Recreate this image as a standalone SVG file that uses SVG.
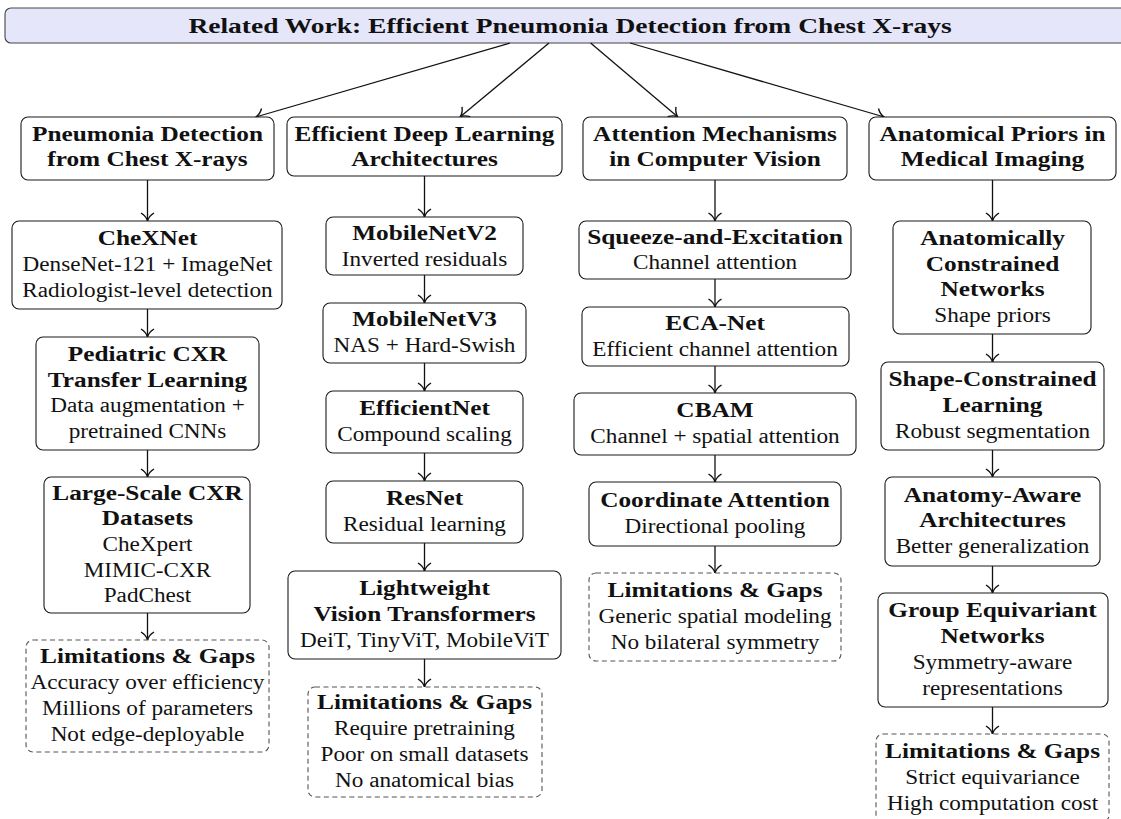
<svg xmlns="http://www.w3.org/2000/svg" width="1121" height="819" viewBox="0 0 1121 819">
<style>
text{font-family:"Liberation Serif","Times New Roman",serif;font-size:20px;text-anchor:middle;fill:#111;transform-box:view-box;transform-origin:0 0;transform:scaleX(1.16)}
text.b{font-weight:bold;transform:scaleX(1.265)}
text.tt{font-weight:bold;font-size:22px;transform:scaleX(1.25)}
.n{fill:#fff;stroke:#1a1a1a;stroke-width:1.1}
.d{fill:#fff;stroke:#555;stroke-width:1.1;stroke-dasharray:5 3.5}
.t{fill:#e6e6fa;stroke:#444;stroke-width:1.1}
.c line{stroke:#111;stroke-width:1.3;marker-end:url(#ah)}
</style>
<defs>
<marker id="ah" markerUnits="userSpaceOnUse" viewBox="-10 -8 12 16" markerWidth="12" markerHeight="16" refX="0" refY="0" orient="auto" overflow="visible">
<path d="M-8,-6.5 C-5.5,-2.5 -2.5,-0.6 0,0 C-2.5,0.6 -5.5,2.5 -8,6.5" fill="none" stroke="#111" stroke-width="1.4"/>
</marker>
</defs>
<rect width="1121" height="819" fill="#fff"/>

<g id="title">
<rect class="t" x="5" y="8" width="1145" height="35" rx="6"/>
<g transform="translate(570,0)"><text class="tt" x="0" y="33">Related Work: Efficient Pneumonia Detection from Chest X-rays</text></g>
</g>

<g class="c" id="connectors">
<line x1="509.9" y1="43" x2="255.7" y2="117"/>
<line x1="549" y1="43" x2="460" y2="117"/>
<line x1="590.6" y1="43" x2="677.9" y2="117"/>
<line x1="630.1" y1="43" x2="884.3" y2="117"/>
<line x1="147.5" y1="180" x2="147.5" y2="221"/>
<line x1="147.5" y1="309" x2="147.5" y2="337"/>
<line x1="147.5" y1="450" x2="147.5" y2="477"/>
<line x1="147.5" y1="613" x2="147.5" y2="640"/>
<line x1="424.5" y1="176" x2="424.5" y2="217"/>
<line x1="424.5" y1="275" x2="424.5" y2="303"/>
<line x1="424.5" y1="363" x2="424.5" y2="391"/>
<line x1="424.5" y1="453" x2="424.5" y2="481"/>
<line x1="424.5" y1="543" x2="424.5" y2="571"/>
<line x1="424.5" y1="659" x2="424.5" y2="687"/>
<line x1="715" y1="180" x2="715" y2="221"/>
<line x1="715" y1="279" x2="715" y2="307"/>
<line x1="715" y1="366" x2="715" y2="393"/>
<line x1="715" y1="455" x2="715" y2="482"/>
<line x1="715" y1="546" x2="715" y2="573"/>
<line x1="992.5" y1="180" x2="992.5" y2="221"/>
<line x1="992.5" y1="334" x2="992.5" y2="362"/>
<line x1="992.5" y1="450" x2="992.5" y2="477"/>
<line x1="992.5" y1="566" x2="992.5" y2="593"/>
<line x1="992.5" y1="707" x2="992.5" y2="734"/>
</g>

<g id="h1"><rect class="n" x="21" y="117" width="253" height="63" rx="7"/>
<g transform="translate(147.5,-0.5)"><text class="b" x="0" y="141.5">Pneumonia Detection</text><text class="b" x="0" y="166.5">from Chest X-rays</text></g></g>
<g id="chexnet"><rect class="n" x="12" y="221" width="270" height="88" rx="7"/>
<g transform="translate(147.5,-0.5)"><text class="b" x="0" y="245.8">CheXNet</text><text x="0" y="271.5">DenseNet-121 + ImageNet</text><text x="0" y="297.2">Radiologist-level detection</text></g></g>
<g id="pediatric"><rect class="n" x="36" y="337" width="223" height="113" rx="7"/>
<g transform="translate(147.5,-0.5)"><text class="b" x="0" y="361.5">Pediatric CXR</text><text class="b" x="0" y="387.2">Transfer Learning</text><text x="0" y="412.9">Data augmentation +</text><text x="0" y="438.6">pretrained CNNs</text></g></g>
<g id="datasets"><rect class="n" x="44" y="477" width="206" height="136" rx="7"/>
<g transform="translate(147.5,-0.5)"><text class="b" x="0" y="500.1">Large-Scale CXR</text><text class="b" x="0" y="525.8">Datasets</text><text x="0" y="551.5">CheXpert</text><text x="0" y="577.2">MIMIC-CXR</text><text x="0" y="602.9">PadChest</text></g></g>
<g id="lim1"><rect class="d" x="26" y="640" width="243" height="112" rx="7"/>
<g transform="translate(147.5,-0.5)"><text class="b" x="0" y="664">Limitations &amp; Gaps</text><text x="0" y="689.7">Accuracy over efficiency</text><text x="0" y="715.4">Millions of parameters</text><text x="0" y="741.1">Not edge-deployable</text></g></g>

<g id="h2"><rect class="n" x="287" y="117" width="275" height="59" rx="7"/>
<g transform="translate(424.5,-0.5)"><text class="b" x="0" y="141.5">Efficient Deep Learning</text><text class="b" x="0" y="166.5">Architectures</text></g></g>
<g id="mnv2"><rect class="n" x="326" y="217" width="197" height="58" rx="7"/>
<g transform="translate(424.5,-0.5)"><text class="b" x="0" y="240.7">MobileNetV2</text><text x="0" y="266.4">Inverted residuals</text></g></g>
<g id="mnv3"><rect class="n" x="323" y="303" width="203" height="60" rx="7"/>
<g transform="translate(424.5,-0.5)"><text class="b" x="0" y="326.7">MobileNetV3</text><text x="0" y="352.4">NAS + Hard-Swish</text></g></g>
<g id="effnet"><rect class="n" x="326" y="391" width="197" height="62" rx="7"/>
<g transform="translate(424.5,-0.5)"><text class="b" x="0" y="415.7">EfficientNet</text><text x="0" y="441.4">Compound scaling</text></g></g>
<g id="resnet"><rect class="n" x="326" y="481" width="197" height="62" rx="7"/>
<g transform="translate(424.5,-0.5)"><text class="b" x="0" y="505.7">ResNet</text><text x="0" y="531.4">Residual learning</text></g></g>
<g id="vit"><rect class="n" x="288" y="571" width="273" height="88" rx="7"/>
<g transform="translate(424.5,-0.5)"><text class="b" x="0" y="595.8">Lightweight</text><text class="b" x="0" y="621.5">Vision Transformers</text><text x="0" y="647.2">DeiT, TinyViT, MobileViT</text></g></g>
<g id="lim2"><rect class="d" x="308" y="687" width="234" height="110" rx="7"/>
<g transform="translate(424.5,-0.5)"><text class="b" x="0" y="710">Limitations &amp; Gaps</text><text x="0" y="735.7">Require pretraining</text><text x="0" y="761.4">Poor on small datasets</text><text x="0" y="787.1">No anatomical bias</text></g></g>

<g id="h3"><rect class="n" x="583" y="117" width="264" height="63" rx="7"/>
<g transform="translate(715,-0.5)"><text class="b" x="0" y="141.5">Attention Mechanisms</text><text class="b" x="0" y="166.5">in Computer Vision</text></g></g>
<g id="se"><rect class="n" x="579" y="221" width="272" height="58" rx="7"/>
<g transform="translate(715,-0.5)"><text class="b" x="0" y="244.2">Squeeze-and-Excitation</text><text x="0" y="269.9">Channel attention</text></g></g>
<g id="eca"><rect class="n" x="582" y="307" width="267" height="59" rx="7"/>
<g transform="translate(715,-0.5)"><text class="b" x="0" y="330.7">ECA-Net</text><text x="0" y="356.4">Efficient channel attention</text></g></g>
<g id="cbam"><rect class="n" x="574" y="393" width="282" height="62" rx="7"/>
<g transform="translate(715,-0.5)"><text class="b" x="0" y="417.7">CBAM</text><text x="0" y="443.4">Channel + spatial attention</text></g></g>
<g id="coord"><rect class="n" x="589" y="482" width="252" height="64" rx="7"/>
<g transform="translate(715,-0.5)"><text class="b" x="0" y="507.7">Coordinate Attention</text><text x="0" y="533.4">Directional pooling</text></g></g>
<g id="lim3"><rect class="d" x="589" y="573" width="252" height="88" rx="7"/>
<g transform="translate(715,-0.5)"><text class="b" x="0" y="597.8">Limitations &amp; Gaps</text><text x="0" y="623.5">Generic spatial modeling</text><text x="0" y="649.2">No bilateral symmetry</text></g></g>

<g id="h4"><rect class="n" x="869" y="117" width="247" height="63" rx="7"/>
<g transform="translate(992.5,-0.5)"><text class="b" x="0" y="141.5">Anatomical Priors in</text><text class="b" x="0" y="166.5">Medical Imaging</text></g></g>
<g id="acn"><rect class="n" x="893" y="221" width="198" height="113" rx="7"/>
<g transform="translate(992.5,-0.5)"><text class="b" x="0" y="245.5">Anatomically</text><text class="b" x="0" y="271.2">Constrained</text><text class="b" x="0" y="296.9">Networks</text><text x="0" y="322.6">Shape priors</text></g></g>
<g id="scl"><rect class="n" x="881" y="362" width="223" height="88" rx="7"/>
<g transform="translate(992.5,-0.5)"><text class="b" x="0" y="386.8">Shape-Constrained</text><text class="b" x="0" y="412.5">Learning</text><text x="0" y="438.2">Robust segmentation</text></g></g>
<g id="aaa"><rect class="n" x="885" y="477" width="215" height="89" rx="7"/>
<g transform="translate(992.5,-0.5)"><text class="b" x="0" y="502.3">Anatomy-Aware</text><text class="b" x="0" y="528">Architectures</text><text x="0" y="553.7">Better generalization</text></g></g>
<g id="gen"><rect class="n" x="878" y="593" width="230" height="114" rx="7"/>
<g transform="translate(992.5,-0.5)"><text class="b" x="0" y="618">Group Equivariant</text><text class="b" x="0" y="643.7">Networks</text><text x="0" y="669.4">Symmetry-aware</text><text x="0" y="695.1">representations</text></g></g>
<g id="lim4"><rect class="d" x="876" y="734" width="233" height="88" rx="7"/>
<g transform="translate(992.5,-0.5)"><text class="b" x="0" y="758.8">Limitations &amp; Gaps</text><text x="0" y="784.5">Strict equivariance</text><text x="0" y="810.2">High computation cost</text></g></g>
</svg>
